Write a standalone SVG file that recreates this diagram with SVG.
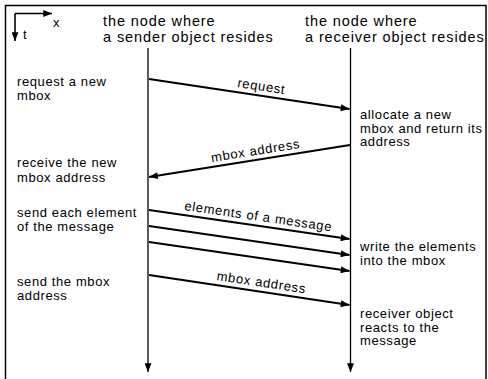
<svg xmlns="http://www.w3.org/2000/svg" width="488" height="379" viewBox="0 0 488 379">
<style>
text{font-family:"Liberation Sans",Arial,Helvetica,sans-serif;fill:#000}
.hd{font-size:14.5px;letter-spacing:0.9px}
.lb{font-size:13px;letter-spacing:0.6px}
.al{font-size:13px;letter-spacing:0.7px;text-anchor:middle}
.life{stroke:#000;stroke-width:1.3;fill:none}
.msg{stroke:#000;stroke-width:1.9;fill:none;marker-end:url(#ah)}
.ax{stroke:#000;stroke-width:1.6;fill:none}
</style>
<defs>
<marker id="ah" viewBox="0 0 10 8" refX="10" refY="4" markerWidth="10" markerHeight="7" orient="auto" markerUnits="userSpaceOnUse"><path d="M0,0 L10,4 L0,8 z" fill="#000"/></marker>
<marker id="lh" viewBox="0 0 10 8" refX="10" refY="4" markerWidth="10" markerHeight="7" orient="auto" markerUnits="userSpaceOnUse"><path d="M0,0 L10,4 L0,8 z" fill="#000"/></marker>
</defs>
<rect width="488" height="379" fill="#fff"/>
<path d="M5.5,385 V5.5 H486 V385" fill="none" stroke="#000" stroke-width="1.5"/>
<g id="axes">
<path class="ax" d="M15,13.5 H52" marker-end="url(#lh)"/>
<path class="ax" d="M15,13.5 V41" marker-end="url(#lh)"/>
<text class="lb" x="53" y="27">x</text>
<text class="lb" x="23" y="39">t</text>
</g>
<g id="sender">
<text class="hd" x="103" y="26">the node where</text>
<text class="hd" x="103" y="42">a sender object resides</text>
<path class="life" d="M148,48 V372" marker-end="url(#lh)"/>
</g>
<g id="receiver">
<text class="hd" x="305" y="26">the node where</text>
<text class="hd" x="305" y="42">a receiver object resides</text>
<path class="life" d="M350.5,48 V372" marker-end="url(#lh)"/>
</g>
<g id="sender-steps">
<text class="lb" x="17" y="86">request a new</text>
<text class="lb" x="17" y="99.5">mbox</text>
<text class="lb" x="17" y="167">receive the new</text>
<text class="lb" x="17" y="181.5">mbox address</text>
<text class="lb" x="17" y="216.5">send each element</text>
<text class="lb" x="17" y="230.5">of the message</text>
<text class="lb" x="17" y="286">send the mbox</text>
<text class="lb" x="17" y="299.5">address</text>
</g>
<g id="receiver-steps">
<text class="lb" x="360" y="119">allocate a new</text>
<text class="lb" x="360" y="132.5">mbox and return its</text>
<text class="lb" x="360" y="146">address</text>
<text class="lb" x="360" y="251">write the elements</text>
<text class="lb" x="360" y="264.5">into the mbox</text>
<text class="lb" x="360" y="318">receiver object</text>
<text class="lb" x="360" y="331.5">reacts to the</text>
<text class="lb" x="360" y="345">message</text>
</g>
<g id="connectors">
<path class="msg" d="M149,79 L349.5,109"/>
<path class="msg" d="M350,145 L149,177"/>
<path class="msg" d="M149,210 L349.5,239"/>
<path class="msg" d="M149,226 L349.5,255"/>
<path class="msg" d="M149,242 L349.5,271"/>
<path class="msg" d="M149,275 L349.5,305"/>
<text class="al" transform="translate(260,95.5) rotate(8.57)" y="-5">request</text>
<text class="al" transform="translate(257,160) rotate(-9.09)" y="-5">mbox address</text>
<text class="al" transform="translate(257,225.6) rotate(8.29)" y="-5">elements of a message</text>
<text class="al" transform="translate(260,291.6) rotate(8.57)" y="-5">mbox address</text>
</g>
</svg>
